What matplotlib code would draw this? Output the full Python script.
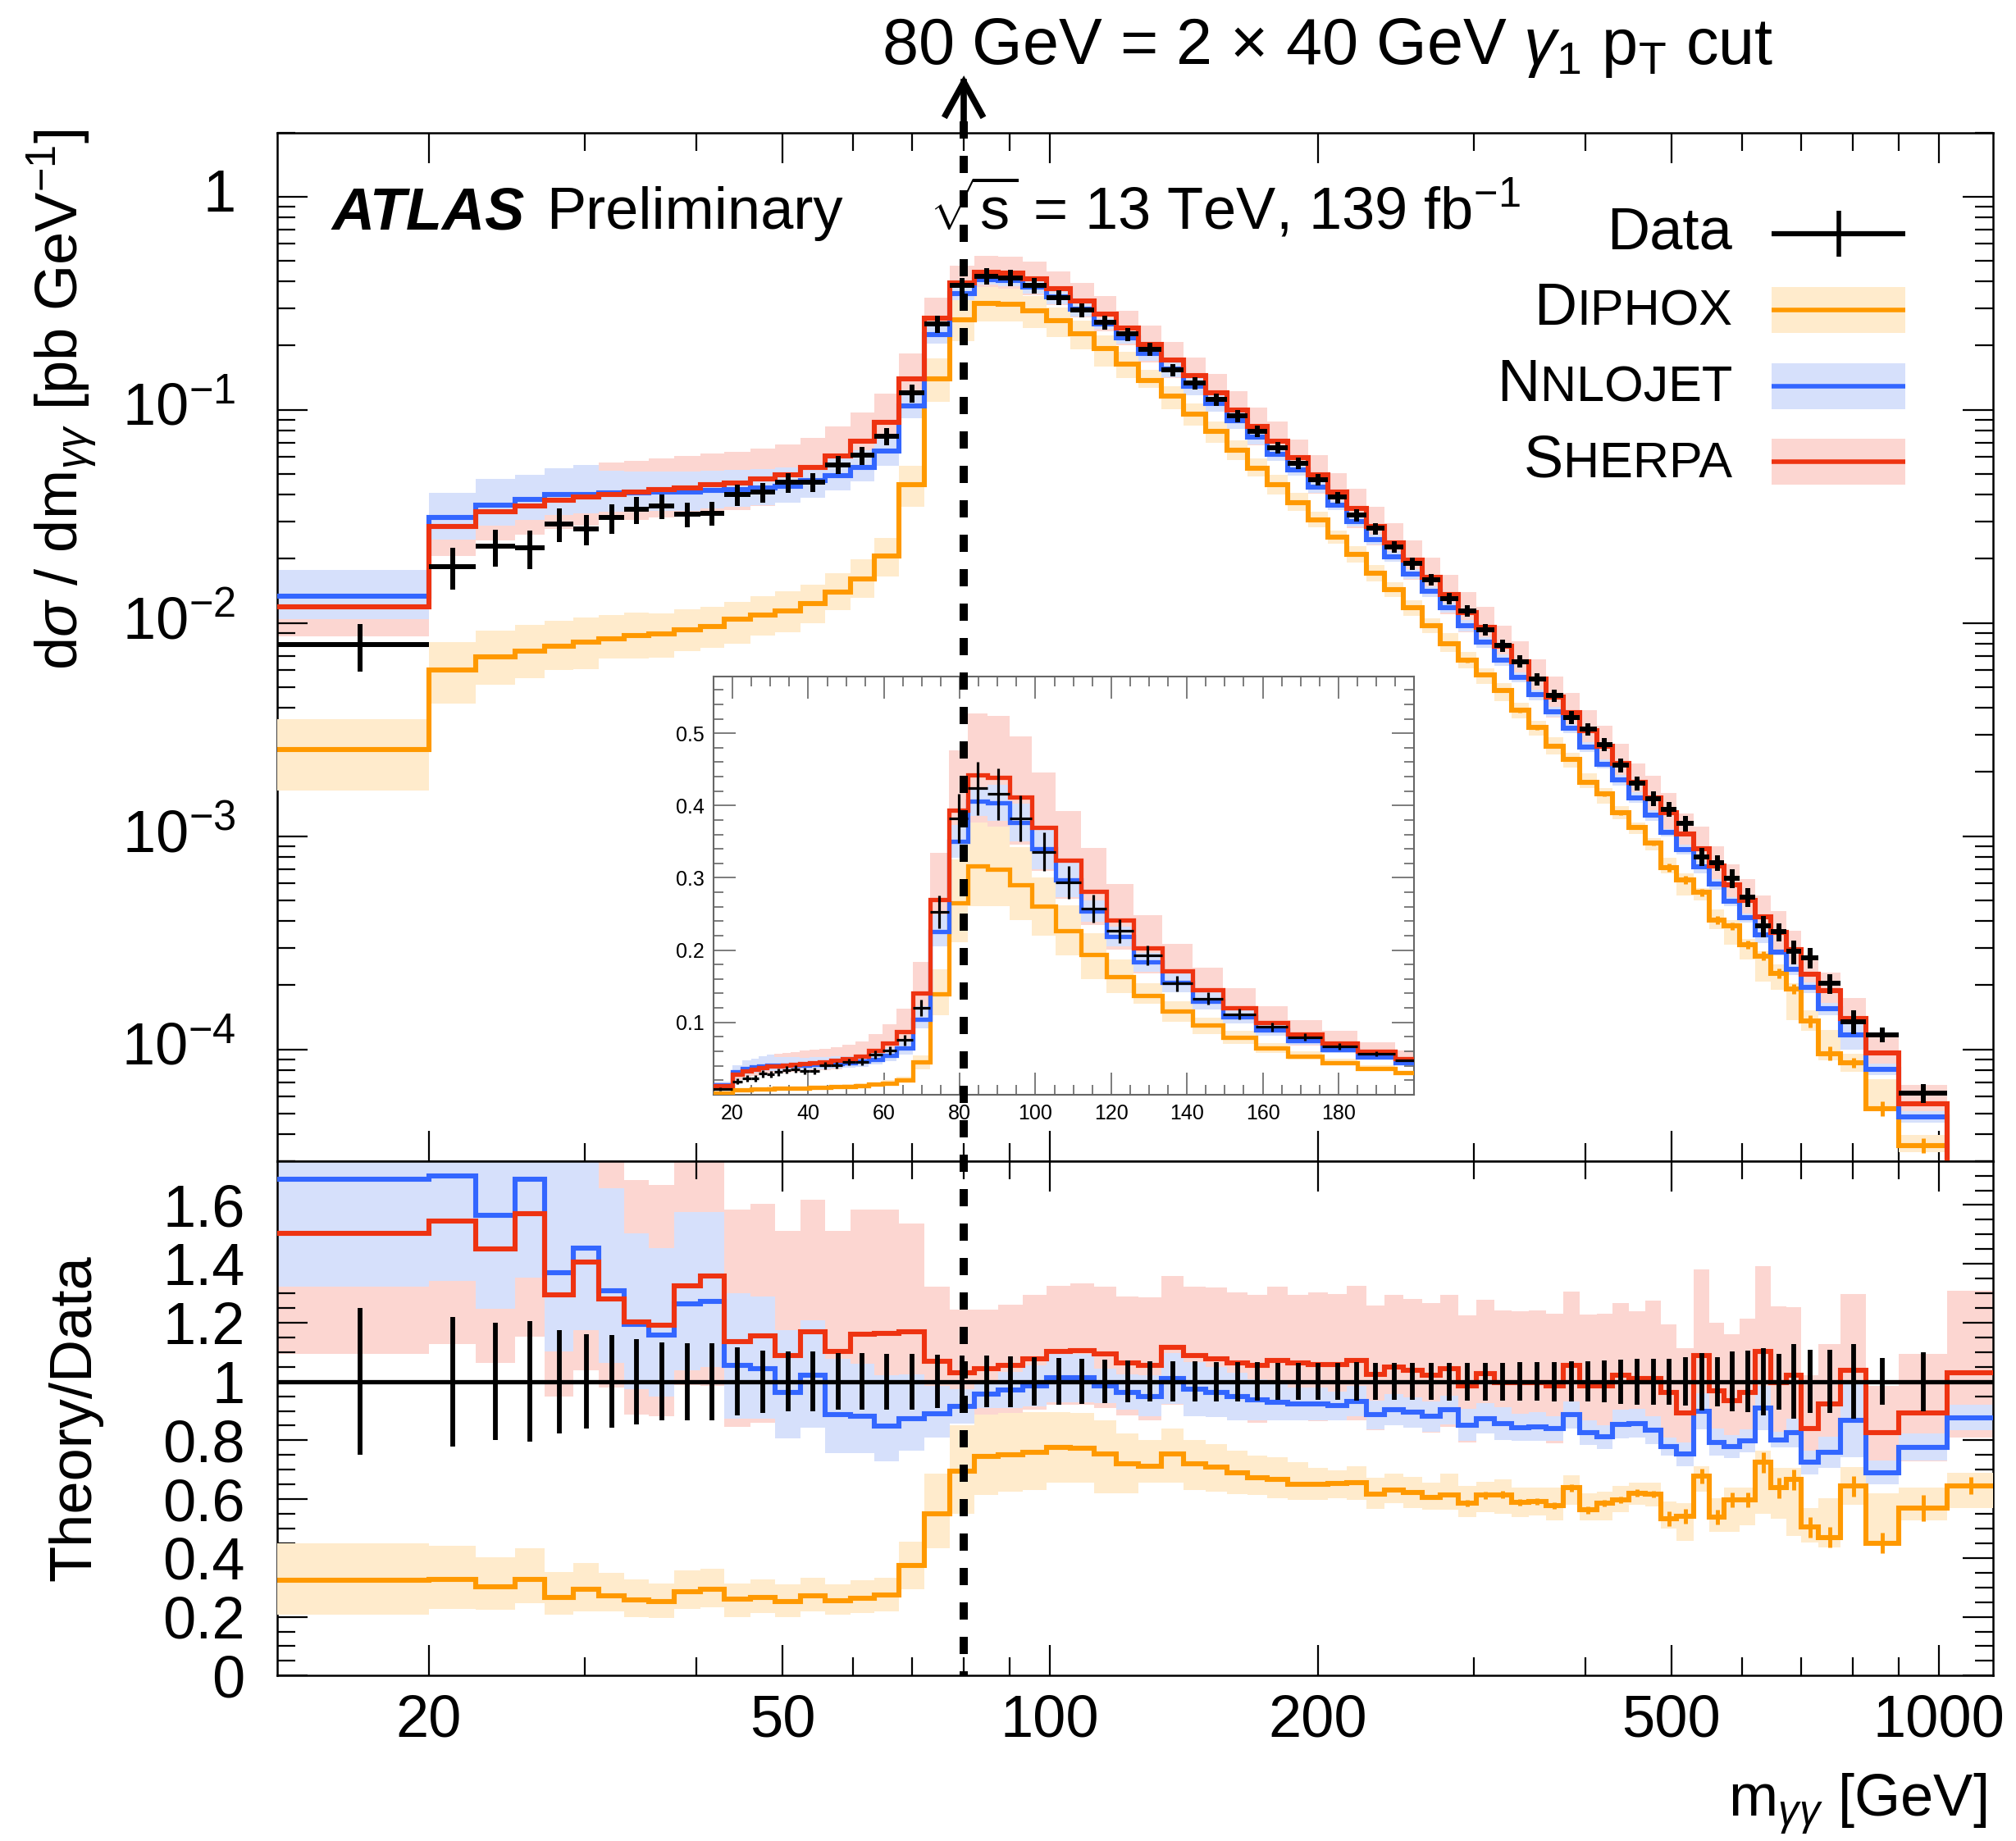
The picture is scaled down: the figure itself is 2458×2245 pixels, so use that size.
import numpy as np
import matplotlib
matplotlib.use("Agg")
import matplotlib.pyplot as plt
from matplotlib.ticker import FixedLocator, FixedFormatter, MultipleLocator, NullFormatter, LogLocator
from matplotlib.lines import Line2D
from matplotlib.patches import Rectangle
from matplotlib.offsetbox import TextArea, HPacker, AnnotationBbox

plt.rcParams['font.family'] = ['Liberation Sans', 'DejaVu Sans']
plt.rcParams['mathtext.fontset'] = 'custom'
plt.rcParams['mathtext.rm'] = 'Liberation Sans'
plt.rcParams['mathtext.it'] = 'Liberation Sans:italic'
plt.rcParams['mathtext.bf'] = 'Liberation Sans:bold'
plt.rcParams['mathtext.sf'] = 'Liberation Sans'

# ---------------- data ----------------
bin_edges = [13.5, 20, 22.6, 25, 27, 29.1, 31.1, 33.2, 35.4, 37.8, 40.4, 43, 46, 49.1, 52.4,
             55.9, 59.6, 63.4, 67.6, 72.2, 77.1, 82.2, 87.4, 93.1, 99.1, 105.4, 112, 118.7,
             125.8, 133.5, 141.4, 149.6, 158.2, 166.7, 175.6, 185.1, 195, 205.3, 215.8, 226.8,
             237.9, 249.6, 262, 274.6, 287.7, 301.6, 315.8, 330.4, 345.4, 361.1, 377.5, 394.3,
             411.8, 429.3, 447.6, 467.3, 486.5, 507, 529.9, 551.9, 573.5, 596.6, 620.9, 646.8,
             673.3, 699.2, 731.7, 774.5, 827.3, 901, 1020, 1150]

data_xsec = [0.0079, 0.0184, 0.0229, 0.0226, 0.0292, 0.0277, 0.0312, 0.0342, 0.0354, 0.0325,
             0.0328, 0.0401, 0.0410, 0.0456, 0.0457, 0.0552, 0.0612, 0.0753, 0.1197, 0.253,
             0.3825, 0.424, 0.416, 0.3825, 0.336, 0.294, 0.2576, 0.2266, 0.1928, 0.1537,
             0.1331, 0.1115, 0.0939, 0.0794, 0.0666, 0.0563, 0.0470, 0.0389, 0.0321, 0.0278,
             0.0227, 0.0190, 0.0160, 0.01305, 0.0114, 0.0093, 0.00784, 0.0066, 0.00546, 0.00457,
             0.00361, 0.00318, 0.00269, 0.00215, 0.00177, 0.00150, 0.001338, 0.001148, 0.000802, 0.000750,
             0.000634, 0.000519, 0.000379, 0.000356, 0.000288, 0.000269, 0.000204, 0.000135, 0.000117, 6.23e-5]
last_bin_xsec = 1.0e-5   # last bin: predictions fall below the plotted range

data_rel_unc = [0.25, 0.22, 0.20, 0.205, 0.176, 0.161, 0.158, 0.145, 0.132, 0.131,
                0.131, 0.115, 0.106, 0.102, 0.102, 0.097, 0.097, 0.095, 0.095, 0.091,
                0.089, 0.087, 0.086, 0.083, 0.079, 0.077, 0.074, 0.072, 0.069, 0.069,
                0.068, 0.067, 0.067, 0.065, 0.063, 0.062, 0.062, 0.062, 0.065, 0.062,
                0.062, 0.062, 0.062, 0.064, 0.064, 0.064, 0.064, 0.066, 0.066, 0.067,
                0.068, 0.069, 0.072, 0.075, 0.078, 0.078, 0.078, 0.083, 0.098, 0.084,
                0.101, 0.104, 0.114, 0.095, 0.127, 0.108, 0.108, 0.126, 0.079, 0.100]

nnlojet_ratio = [1.687, 1.700, 1.566, 1.687, 1.369, 1.453, 1.309, 1.195, 1.158, 1.263,
                 1.272, 1.054, 1.045, 0.964, 1.022, 0.887, 0.881, 0.849, 0.873, 0.890,
                 0.916, 0.958, 0.971, 0.985, 1.012, 1.012, 0.985, 0.964, 0.950, 1.010,
                 0.973, 0.964, 0.950, 0.939, 0.929, 0.925, 0.925, 0.918, 0.933, 0.887,
                 0.904, 0.895, 0.881, 0.904, 0.852, 0.875, 0.858, 0.844, 0.846, 0.840,
                 0.887, 0.825, 0.811, 0.855, 0.858, 0.835, 0.779, 0.754, 0.898, 0.794,
                 0.779, 0.798, 0.910, 0.802, 0.825, 0.725, 0.759, 0.869, 0.690, 0.777,
                 0.877]
nnlojet_lo = [1.323, 1.341, 1.248, 1.353, 1.103, 1.176, 1.064, 0.973, 0.950, 1.037,
              1.049, 0.875, 0.875, 0.808, 0.843, 0.756, 0.756, 0.728, 0.765, 0.809,
              0.858, 0.910, 0.910, 0.916, 0.929, 0.929, 0.927, 0.904, 0.881, 0.925,
              0.881, 0.879, 0.869, 0.869, 0.869, 0.869, 0.869, 0.869, 0.881, 0.837,
              0.852, 0.844, 0.829, 0.855, 0.798, 0.823, 0.802, 0.798, 0.798, 0.798,
              0.840, 0.783, 0.771, 0.806, 0.809, 0.788, 0.748, 0.713, 0.837, 0.748,
              0.740, 0.759, 0.835, 0.777, 0.777, 0.684, 0.707, 0.742, 0.650, 0.731,
              0.835]
nnlojet_hi = [2.24, 2.22, 2.07, 2.20, 1.82, 1.99, 1.658, 1.505, 1.453, 1.577,
              1.577, 1.300, 1.288, 1.176, 1.207, 1.077, 1.060, 1.022, 1.025, 0.985,
              0.975, 1.002, 1.032, 1.054, 1.094, 1.094, 1.043, 1.024, 1.020, 1.096,
              1.066, 1.050, 1.031, 1.008, 0.990, 0.980, 0.980, 0.966, 0.985, 0.936,
              0.956, 0.946, 0.933, 0.953, 0.906, 0.927, 0.913, 0.890, 0.895, 0.883,
              0.933, 0.868, 0.852, 0.905, 0.906, 0.881, 0.810, 0.794, 0.960, 0.840,
              0.818, 0.836, 0.985, 0.828, 0.874, 0.765, 0.811, 0.997, 0.731, 0.823,
              0.920]

sherpa_ratio = [1.505, 1.546, 1.450, 1.571, 1.294, 1.407, 1.282, 1.202, 1.191, 1.326,
                1.359, 1.135, 1.156, 1.089, 1.170, 1.101, 1.161, 1.164, 1.170, 1.068,
                1.029, 1.043, 1.054, 1.077, 1.101, 1.104, 1.093, 1.064, 1.054, 1.116,
                1.087, 1.077, 1.064, 1.054, 1.072, 1.064, 1.059, 1.059, 1.072, 1.023,
                1.049, 1.037, 1.022, 1.045, 0.985, 1.028, 0.997, 0.997, 0.997, 0.985,
                1.054, 0.985, 0.985, 1.022, 1.010, 1.010, 0.962, 0.892, 1.089, 0.968,
                0.936, 0.964, 1.103, 0.997, 1.022, 0.840, 0.925, 1.037, 0.825, 0.892,
                1.031]
sherpa_lo = [1.093, 1.126, 1.062, 1.153, 0.950, 1.037, 0.979, 0.887, 0.881, 0.988,
             0.985, 0.846, 0.860, 0.850, 0.860, 0.850, 0.850, 0.850, 0.850, 0.850,
             0.904, 0.880, 0.889, 0.903, 0.921, 0.920, 0.909, 0.885, 0.868, 0.921,
             0.898, 0.883, 0.873, 0.861, 0.872, 0.880, 0.864, 0.869, 0.869, 0.834,
             0.852, 0.843, 0.827, 0.845, 0.793, 0.828, 0.800, 0.803, 0.800, 0.789,
             0.852, 0.791, 0.789, 0.825, 0.827, 0.797, 0.776, 0.714, 0.856, 0.783,
             0.756, 0.764, 0.873, 0.789, 0.837, 0.694, 0.763, 0.829, 0.697, 0.730,
             0.809]
sherpa_hi = [2.10, 2.10, 1.95, 2.10, 1.75, 1.85, 1.81, 1.685, 1.667, 1.87,
             1.90, 1.586, 1.604, 1.511, 1.619, 1.511, 1.584, 1.584, 1.538, 1.323,
             1.245, 1.245, 1.260, 1.295, 1.326, 1.334, 1.323, 1.288, 1.286, 1.360,
             1.323, 1.320, 1.303, 1.295, 1.323, 1.294, 1.303, 1.297, 1.326, 1.259,
             1.295, 1.280, 1.266, 1.295, 1.226, 1.278, 1.242, 1.239, 1.242, 1.230,
             1.306, 1.228, 1.230, 1.268, 1.239, 1.276, 1.195, 1.114, 1.380, 1.199,
             1.161, 1.213, 1.391, 1.256, 1.253, 1.022, 1.127, 1.297, 0.985, 1.095,
             1.309]

diphox_ratio = [0.324, 0.328, 0.303, 0.326, 0.266, 0.293, 0.270, 0.256, 0.251, 0.285,
                0.293, 0.259, 0.266, 0.251, 0.270, 0.254, 0.262, 0.274, 0.374, 0.551,
                0.694, 0.746, 0.750, 0.759, 0.777, 0.773, 0.753, 0.721, 0.713, 0.753,
                0.719, 0.710, 0.690, 0.673, 0.667, 0.650, 0.650, 0.652, 0.655, 0.617,
                0.632, 0.624, 0.606, 0.615, 0.586, 0.613, 0.615, 0.589, 0.592, 0.578,
                0.638, 0.563, 0.586, 0.598, 0.621, 0.617, 0.534, 0.543, 0.679, 0.540,
                0.598, 0.598, 0.725, 0.638, 0.667, 0.505, 0.470, 0.644, 0.451, 0.569,
                0.646]
diphox_lo = [0.208, 0.228, 0.225, 0.245, 0.207, 0.219, 0.219, 0.199, 0.195, 0.228,
             0.233, 0.199, 0.214, 0.199, 0.219, 0.208, 0.214, 0.219, 0.293, 0.432,
             0.551, 0.615, 0.626, 0.632, 0.655, 0.655, 0.621, 0.621, 0.655, 0.655,
             0.632, 0.626, 0.617, 0.615, 0.603, 0.598, 0.598, 0.603, 0.598, 0.566,
             0.586, 0.569, 0.563, 0.563, 0.540, 0.557, 0.551, 0.540, 0.545, 0.528,
             0.580, 0.528, 0.528, 0.557, 0.580, 0.574, 0.499, 0.459, 0.626, 0.488,
             0.488, 0.511, 0.551, 0.534, 0.476, 0.453, 0.436, 0.580, 0.447, 0.528,
             0.569]
diphox_hi = [0.450, 0.441, 0.403, 0.432, 0.352, 0.384, 0.349, 0.326, 0.314, 0.357,
             0.363, 0.314, 0.326, 0.309, 0.332, 0.309, 0.324, 0.332, 0.455, 0.687,
             0.852, 0.887, 0.892, 0.895, 0.895, 0.892, 0.869, 0.823, 0.800, 0.840,
             0.802, 0.788, 0.765, 0.748, 0.742, 0.725, 0.707, 0.698, 0.713, 0.673,
             0.687, 0.675, 0.655, 0.687, 0.644, 0.659, 0.667, 0.638, 0.638, 0.638,
             0.682, 0.621, 0.626, 0.644, 0.655, 0.655, 0.592, 0.586, 0.713, 0.603,
             0.638, 0.638, 0.765, 0.707, 0.707, 0.569, 0.603, 0.710, 0.621, 0.638,
             0.690]
diphox_stat = [0.0] * 44 + [0.012, 0.012, 0.012, 0.012, 0.012, 0.012, 0.012, 0.012, 0.012, 0.012,
                            0.012, 0.012, 0.025, 0.025, 0.025, 0.025, 0.025, 0.025, 0.035, 0.035,
                            0.035, 0.035, 0.035, 0.035, 0.035, 0.045, 0.030]

x_major = [20, 50, 100, 200, 500, 1000]
x_major_labels = ['20', '50', '100', '200', '500', '1000']
x_minor = [30, 40, 60, 70, 80, 90, 300, 400, 600, 700, 800, 900]
y_main_ticks = [1e-4, 1e-3, 1e-2, 1e-1, 1.0]
y_main_labels = [r'$10^{-4}$', r'$10^{-3}$', r'$10^{-2}$', r'$10^{-1}$', '1']
y_ratio_ticks = [0, 0.2, 0.4, 0.6, 0.8, 1.0, 1.2, 1.4, 1.6]
y_ratio_labels = ['0', '0.2', '0.4', '0.6', '0.8', '1', '1.2', '1.4', '1.6']
inset_x_ticks = [20, 40, 60, 80, 100, 120, 140, 160, 180]
inset_y_ticks = [0.1, 0.2, 0.3, 0.4, 0.5]

# ---------------- style ----------------
ORANGE, ORANGE_BAND = '#ff9900', '#ffebcc'
BLUE, BLUE_BAND = '#3366ff', '#d6e0fb'
RED, RED_BAND = '#ee3311', '#fcd6d1'
LW = 4.4

edges = np.array(bin_edges, dtype=float)
centers = 0.5 * (edges[:-1] + edges[1:])
halfw = 0.5 * np.diff(edges)
data = np.array(data_xsec)
nd = len(data)
data_ref = np.append(data, last_bin_xsec)
rel = np.array(data_rel_unc)

W, H = 2458.0, 2245.0
def fx(px):
    return px / W
def fy(py):
    return 1.0 - py / H

fig = plt.figure(figsize=(W / 100, H / 100), dpi=100)
L, R = 337.5, 2430.0
T_main, B_main, B_ratio = 161.5, 1415.7, 2043.3
ax = fig.add_axes([fx(L), fy(B_main), (R - L) / W, (B_main - T_main) / H])
axr = fig.add_axes([fx(L), fy(B_ratio), (R - L) / W, (B_ratio - B_main) / H])
axi = fig.add_axes([fx(870), fy(1334.8), (1724.2 - 870) / W, (1334.8 - 824.6) / H])


def draw_theory(a, scale, lw):
    scale = np.asarray(scale, dtype=float)
    for lo, hi, col, z in [(sherpa_lo, sherpa_hi, RED_BAND, 1),
                           (nnlojet_lo, nnlojet_hi, BLUE_BAND, 2),
                           (diphox_lo, diphox_hi, ORANGE_BAND, 3)]:
        a.stairs(np.array(hi) * scale, edges, baseline=np.array(lo) * scale, fill=True,
                 facecolor=col, edgecolor='none', linewidth=0, zorder=z)
    for val, col, z in [(diphox_ratio, ORANGE, 4), (nnlojet_ratio, BLUE, 5), (sherpa_ratio, RED, 6)]:
        a.stairs(np.array(val) * scale, edges, baseline=None, fill=False, edgecolor=col,
                 linewidth=lw, joinstyle='miter', capstyle='butt', zorder=z)
    a.errorbar(centers, np.array(diphox_ratio) * scale, yerr=np.array(diphox_stat) * scale,
               fmt='none', ecolor=ORANGE, elinewidth=lw * 0.8, capsize=0, zorder=4)


# main panel
draw_theory(ax, data_ref, LW)
ax.errorbar(centers[:nd], data, xerr=halfw[:nd], yerr=data * rel, fmt='none', ecolor='k',
            elinewidth=4.3, capsize=0, zorder=8)

# ratio panel
draw_theory(axr, np.ones(len(centers)), LW)
axr.axhline(1.0, color='k', lw=3.8, zorder=8)
axr.errorbar(centers[:nd], np.ones(nd), yerr=rel, fmt='none', ecolor='k', elinewidth=4.2,
             capsize=0, zorder=9)

# inset
draw_theory(axi, data_ref, 3.8)
axi.errorbar(centers[:nd], data, xerr=halfw[:nd], yerr=data * rel, fmt='none', ecolor='k',
             elinewidth=2.3, capsize=0, zorder=8)

# ---------------- axes formatting ----------------
for a in (ax, axr):
    a.set_xscale('log')
    a.set_xlim(13.5, 1150)
    a.xaxis.set_major_locator(FixedLocator(x_major))
    a.xaxis.set_minor_locator(FixedLocator(x_minor))
    a.xaxis.set_minor_formatter(NullFormatter())
    a.tick_params(which='both', direction='in', top=True, right=True, bottom=True, left=True,
                  width=1.6, color='k')
    a.tick_params(which='major', length=26.6)
    a.tick_params(which='minor', length=15.8)
    for s in a.spines.values():
        s.set_linewidth(1.8)

ax.xaxis.set_major_formatter(NullFormatter())
ax.set_yscale('log')
ax.set_ylim(3e-5, 2.0)
ax.yaxis.set_major_locator(FixedLocator(y_main_ticks))
ax.yaxis.set_major_formatter(FixedFormatter(y_main_labels))
ax.yaxis.set_minor_locator(LogLocator(base=10, subs=np.arange(2, 10), numticks=50))
ax.yaxis.set_minor_formatter(NullFormatter())
ax.tick_params(axis='y', which='major', labelsize=52, pad=36)
for lbl in ax.get_yticklabels():
    lbl.set_verticalalignment('center')

axr.set_ylim(0, 1.75)
axr.yaxis.set_major_locator(FixedLocator(y_ratio_ticks))
axr.yaxis.set_major_formatter(FixedFormatter(y_ratio_labels))
axr.yaxis.set_minor_locator(MultipleLocator(0.05))
axr.xaxis.set_major_formatter(FixedFormatter(x_major_labels))
axr.tick_params(axis='y', which='major', labelsize=52, pad=28)
axr.tick_params(axis='x', which='major', labelsize=52, pad=16)

axi.set_xlim(15, 200)
axi.set_ylim(0, 0.579)
axi.xaxis.set_major_locator(FixedLocator(inset_x_ticks))
axi.xaxis.set_major_formatter(FixedFormatter([str(v) for v in inset_x_ticks]))
axi.xaxis.set_minor_locator(MultipleLocator(5))
axi.yaxis.set_major_locator(FixedLocator(inset_y_ticks))
axi.yaxis.set_major_formatter(FixedFormatter(['0.1', '0.2', '0.3', '0.4', '0.5']))
axi.yaxis.set_minor_locator(MultipleLocator(0.02))
axi.tick_params(which='both', direction='in', top=True, right=True, width=1.2, color='#666666',
                labelsize=18)
axi.tick_params(which='major', length=19.5, pad=8)
axi.tick_params(which='minor', length=8.6)
for s in axi.spines.values():
    s.set_linewidth(1.5)
    s.set_edgecolor('#666666')

# ---------------- text ----------------
ax.text(0.0318, 0.906, 'ATLAS', transform=ax.transAxes, fontsize=52, fontweight='bold',
        fontstyle='italic', va='baseline', ha='left')
ax.text(0.157, 0.906, 'Preliminary', transform=ax.transAxes, fontsize=52, va='baseline', ha='left')
ax.text(0.380, 0.906, r'$\sqrt{\mathrm{s}}$ = 13 TeV, 139 fb$^{-1}$', transform=ax.transAxes,
        fontsize=52, va='baseline', ha='left')

fig.text(fx(1075), fy(78), r'80 GeV = 2 $\times$ 40 GeV $\gamma_{1}$ p$_{\mathrm{T}}$ cut',
         fontsize=57, va='baseline', ha='left')

fig.text(fx(76), fy(157), r'd$\sigma$ / dm$_{\gamma\gamma}$ [pb GeV$^{-1}$]', rotation=90,
         ha='center', va='top', fontsize=52)
fig.text(fx(92), fy(0.5 * (B_main + B_ratio)), 'Theory/Data', rotation=90, ha='center',
         va='center', fontsize=52)
axr.text(0.996, -0.2736, r'm$_{\gamma\gamma}$ [GeV]', transform=axr.transAxes, ha='right',
         va='baseline', fontsize=52)

# ---------------- legend ----------------
leg_text_x = 0.848
sym_x0, sym_x1 = 0.871, 0.949
half_h = 28.0 / (B_main - T_main)
rows = [('Data', None, 0.9015), ('DIPHOX', (ORANGE, ORANGE_BAND), 0.8274),
        ('NNLOJET', (BLUE, BLUE_BAND), 0.7536), ('SHERPA', (RED, RED_BAND), 0.6795)]
for name, cols, yc in rows:
    if cols is None:
        parts = [TextArea(name, textprops=dict(fontsize=52))]
    else:
        parts = [TextArea(name[0], textprops=dict(fontsize=52)),
                 TextArea(name[1:], textprops=dict(fontsize=44))]
    box = HPacker(children=parts, align='baseline', pad=0, sep=0)
    ab = AnnotationBbox(box, (leg_text_x, yc), xycoords=ax.transAxes, box_alignment=(1.0, 0.5),
                        frameon=False, pad=0)
    ax.add_artist(ab)
    if cols is None:
        ax.plot([sym_x0, sym_x1], [yc, yc], transform=ax.transAxes, color='k', lw=4.5,
                solid_capstyle='butt', clip_on=False, zorder=10)
        xm = 0.5 * (sym_x0 + sym_x1)
        ax.plot([xm, xm], [yc - half_h, yc + half_h], transform=ax.transAxes, color='k', lw=4.0,
                solid_capstyle='butt', clip_on=False, zorder=10)
    else:
        ax.add_patch(Rectangle((sym_x0, yc - half_h), sym_x1 - sym_x0, 2 * half_h,
                               transform=ax.transAxes, facecolor=cols[1], edgecolor='none',
                               zorder=9))
        ax.plot([sym_x0, sym_x1], [yc, yc], transform=ax.transAxes, color=cols[0], lw=4.0,
                solid_capstyle='butt', zorder=10)

# ---------------- 80 GeV dashed line with arrow ----------------
x80_disp = ax.transData.transform((80.0, 1.0))[0]
x80 = fig.transFigure.inverted().transform((x80_disp, 0.0))[0]
fig.add_artist(Line2D([x80, x80], [fy(148), fy(B_ratio)], transform=fig.transFigure, color='k',
                      lw=7.2, dashes=(2.1, 2.1), zorder=20))
fig.add_artist(Line2D([x80, x80], [fy(100), fy(150)], transform=fig.transFigure, color='k',
                      lw=5.5, zorder=20))
fig.add_artist(Line2D([x80 - fx(22), x80, x80 + fx(22)], [fy(140), fy(100), fy(140)],
                      transform=fig.transFigure, color='k', lw=5.5, solid_joinstyle='miter',
                      zorder=20))

fig.savefig('out.png', dpi=100)
